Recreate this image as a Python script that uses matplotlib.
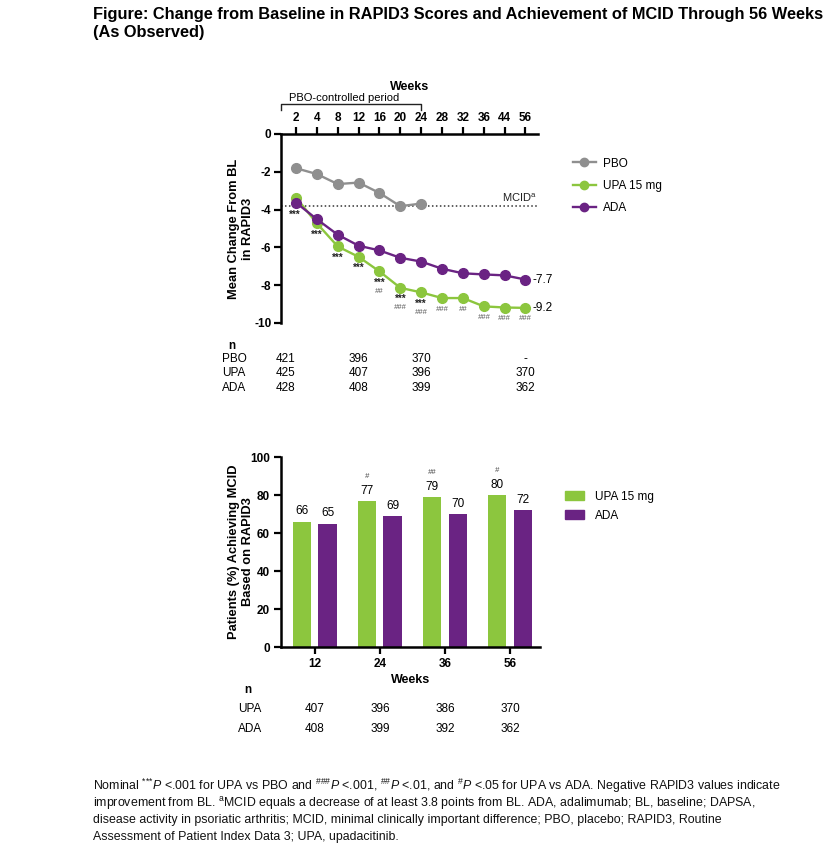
import matplotlib
matplotlib.use("Agg")
import matplotlib.pyplot as plt
import matplotlib.transforms as mtransforms
from matplotlib.patches import Patch
from matplotlib.lines import Line2D

plt.rcParams['font.family'] = ['Liberation Sans', 'DejaVu Sans']
plt.rcParams['mathtext.fontset'] = 'custom'
plt.rcParams['mathtext.rm'] = 'Liberation Sans'
plt.rcParams['mathtext.it'] = 'Liberation Sans:italic'
plt.rcParams['axes.unicode_minus'] = False

# ---- data: change from baseline ----
weeks = ['2', '4', '8', '12', '16', '20', '24', '28', '32', '36', '44', '56']
pbo = [-1.81, -2.12, -2.65, -2.57, -3.12, -3.82, -3.68]
upa = [-3.36, -4.73, -5.95, -6.50, -7.27, -8.14, -8.38, -8.68, -8.68, -9.12, -9.18, -9.2]
ada = [-3.63, -4.51, -5.33, -5.91, -6.16, -6.55, -6.75, -7.13, -7.37, -7.43, -7.48, -7.7]
mcid = -3.8
stars = ['***', '***', '***', '***', '***', '***', '***', '', '', '', '', '']
hashes = ['', '', '', '', '##', '###', '###', '###', '##', '###', '###', '###']

n_weeks_top = ['2', '12', '24', '56']
n_pbo = ['421', '396', '370', '-']
n_upa_top = ['425', '407', '396', '370']
n_ada_top = ['428', '408', '399', '362']

# ---- data: MCID achievement ----
bar_weeks = ['12', '24', '36', '56']
bar_upa = [66, 77, 79, 80]
bar_ada = [65, 69, 70, 72]
bar_sig = ['', '#', '##', '#']
n_upa_bot = ['407', '396', '386', '370']
n_ada_bot = ['408', '399', '392', '362']

GRAY = '#8f8f8f'
GREEN = '#8cc63e'
PURPLE = '#6a2383'

W, H = 838, 856
fig = plt.figure(figsize=(W / 100, H / 100), dpi=100)


def fx(px):
    return px / W


def fy(py):
    return 1 - py / H


fig.text(fx(93), fy(14), 'Figure: Change from Baseline in RAPID3 Scores and Achievement of MCID Through 56 Weeks',
         fontsize=11.8, fontweight='bold', va='center', ha='left')
fig.text(fx(93), fy(32), '(As Observed)', fontsize=11.8, fontweight='bold', va='center', ha='left')

# ================= top panel =================
ax = fig.add_axes([fx(281), fy(323), fx(538) - fx(281), fy(134) - fy(323)])
x = list(range(len(weeks)))
ax.plot(x[:len(pbo)], pbo, '-o', color=GRAY, lw=1.7, ms=7, zorder=3)
ax.plot(x, upa, '-o', color=GREEN, lw=1.7, ms=7, zorder=4)
ax.plot(x, ada, '-o', color=PURPLE, lw=1.7, ms=7, zorder=5)
ax.axhline(mcid, color='#333333', ls=(0, (1, 1.6)), lw=1.1, zorder=2)
ax.text(11.55, mcid + 0.12, r'MCID$^{\mathrm{a}}$', fontsize=8, ha='right', va='bottom', color='#222222')

ax.set_xlim(-0.72, 11.6)
ax.set_ylim(-10, 0)
ax.set_yticks([0, -2, -4, -6, -8, -10])
ax.set_xticks(x)
ax.set_xticklabels(weeks)
ax.xaxis.tick_top()
ax.xaxis.set_label_position('top')
ax.set_xlabel('Weeks', fontsize=9, fontweight='bold')
ax.xaxis.set_label_coords(0.5, 1.235)
ax.set_ylabel('Mean Change From BL\nin RAPID3', fontsize=9.3, fontweight='bold')
ax.yaxis.set_label_coords(-0.105, 0.5)
for s in ['bottom', 'right']:
    ax.spines[s].set_visible(False)
for s in ['top', 'left']:
    ax.spines[s].set_linewidth(1.8)
ax.tick_params(axis='both', width=1.6, length=5, labelsize=8.5, pad=2)
for lab in ax.get_xticklabels() + ax.get_yticklabels():
    lab.set_fontweight('bold')

for i, (s, h) in enumerate(zip(stars, hashes)):
    dx, dy = (-1, -12.5) if i == 0 else (0, -8)
    if s:
        ax.annotate(s, (i, upa[i]), xytext=(dx, dy), textcoords='offset points', zorder=7,
                    ha='center', va='center', fontsize=7, fontweight='bold', color='#222222')
        if h:
            ax.annotate(h, (i, upa[i]), xytext=(dx, dy - 6.5), textcoords='offset points', zorder=7,
                        ha='center', va='center', fontsize=5.5, color='#555555', style='italic')
    elif h:
        ax.annotate(h, (i, upa[i]), xytext=(0, -8), textcoords='offset points', zorder=7,
                    ha='center', va='center', fontsize=5.5, color='#555555', style='italic')

ax.annotate('-7.7', (11, ada[-1]), xytext=(5, 0), textcoords='offset points',
            va='center', ha='left', fontsize=8.5)
ax.annotate('-9.2', (11, upa[-1]), xytext=(5, 0), textcoords='offset points',
            va='center', ha='left', fontsize=8.5)

# PBO-controlled period bracket
tb = mtransforms.blended_transform_factory(ax.transData, ax.transAxes)
yb = 1 + 30 / 189
ax.plot([-0.72, -0.72, 6, 6], [1 + 24 / 189, yb, yb, 1 + 24 / 189], color='#222222', lw=1,
        transform=tb, clip_on=False)
ax.text(-0.35, yb + 0.005, 'PBO-controlled period', fontsize=8, transform=tb, ha='left', va='bottom')

# legend top
handles = [Line2D([], [], color=c, marker='o', ms=6, lw=1.7) for c in (GRAY, GREEN, PURPLE)]
fig.legend(handles, ['PBO', 'UPA 15 mg', 'ADA'], loc='upper left',
           bbox_to_anchor=(fx(562), fy(147)), frameon=False, fontsize=8.5,
           handlelength=2.0, labelspacing=0.85, handletextpad=0.6)

# n table top
tt = mtransforms.blended_transform_factory(ax.transData, fig.transFigure)
fig.text(fx(232), fy(346), 'n', fontsize=8.5, fontweight='bold', ha='center', va='center')
col_idx = [weeks.index(w) for w in n_weeks_top]
for row_y, lab, vals in [(359, 'PBO', n_pbo), (373, 'UPA', n_upa_top), (388, 'ADA', n_ada_top)]:
    fig.text(fx(222), fy(row_y), lab, fontsize=8.5, ha='left', va='center')
    for ci, v in zip(col_idx, vals):
        xi = ci - 0.5 if ci == 0 else ci
        ax.text(xi, fy(row_y), v, fontsize=8.5, ha='center', va='center',
                transform=tt, clip_on=False)

# ================= bottom panel =================
bx = fig.add_axes([fx(281), fy(647), fx(540) - fx(281), fy(457) - fy(647)])
g = list(range(len(bar_weeks)))
off, bw = 0.195, 0.28
bx.bar([i - off for i in g], bar_upa, width=bw, color=GREEN)
bx.bar([i + off for i in g], bar_ada, width=bw, color=PURPLE)
for i in g:
    bx.annotate(str(bar_upa[i]), (i - off, bar_upa[i]), xytext=(0, 3), textcoords='offset points',
                ha='center', va='bottom', fontsize=8.5)
    bx.annotate(str(bar_ada[i]), (i + off, bar_ada[i]), xytext=(0, 3), textcoords='offset points',
                ha='center', va='bottom', fontsize=8.5)
    if bar_sig[i]:
        bx.annotate(bar_sig[i], (i - off, bar_upa[i]), xytext=(0, 15), textcoords='offset points',
                    ha='center', va='bottom', fontsize=5.5, color='#444444', style='italic')

bx.set_xlim(-0.52, 3.46)
bx.set_ylim(0, 100)
bx.set_yticks([0, 20, 40, 60, 80, 100])
bx.set_xticks(g)
bx.set_xticklabels(bar_weeks)
bx.set_xlabel('Weeks', fontsize=9, fontweight='bold', labelpad=3)
bx.set_ylabel('Patients (%) Achieving MCID\nBased on RAPID3', fontsize=9.3, fontweight='bold')
bx.yaxis.set_label_coords(-0.105, 0.5)
for s in ['top', 'right']:
    bx.spines[s].set_visible(False)
for s in ['bottom', 'left']:
    bx.spines[s].set_linewidth(1.8)
bx.tick_params(axis='both', width=1.6, length=5, labelsize=8.5, pad=3)
for lab in bx.get_xticklabels() + bx.get_yticklabels():
    lab.set_fontweight('bold')

fig.legend([Patch(color=GREEN), Patch(color=PURPLE)], ['UPA 15 mg', 'ADA'], loc='upper left',
           bbox_to_anchor=(fx(554), fy(480)), frameon=False, fontsize=8.5,
           handlelength=1.6, handleheight=0.8, labelspacing=0.6, handletextpad=1.0)

tb2 = mtransforms.blended_transform_factory(bx.transData, fig.transFigure)
fig.text(fx(248), fy(690), 'n', fontsize=8.5, fontweight='bold', ha='center', va='center')
for row_y, lab, vals in [(709, 'UPA', n_upa_bot), (729, 'ADA', n_ada_bot)]:
    fig.text(fx(238), fy(row_y), lab, fontsize=8.5, ha='left', va='center')
    for i, v in zip(g, vals):
        bx.text(i, fy(row_y), v, fontsize=8.5, ha='center', va='center', transform=tb2, clip_on=False)

# footnote
foot = [
    r'Nominal $^{{*}{*}{*}}\mathit{P}$ <.001 for UPA vs PBO and $^{\#\#\#}\mathit{P}$ <.001, $^{\#\#}\mathit{P}$ <.01, '
    r'and $^{\#}\mathit{P}$ <.05 for UPA vs ADA. Negative RAPID3 values indicate',
    r'improvement from BL. $^{\mathrm{a}}$MCID equals a decrease of at least 3.8 points from BL. ADA, adalimumab; BL, baseline; DAPSA,',
    'disease activity in psoriatic arthritis; MCID, minimal clinically important difference; PBO, placebo; RAPID3, Routine',
    'Assessment of Patient Index Data 3; UPA, upadacitinib.',
]
for k, line in enumerate(foot):
    fig.text(fx(93), fy(786 + 17 * k), line, fontsize=8.9, ha='left', va='center', color='#111111')

fig.savefig('out.png', dpi=100)
